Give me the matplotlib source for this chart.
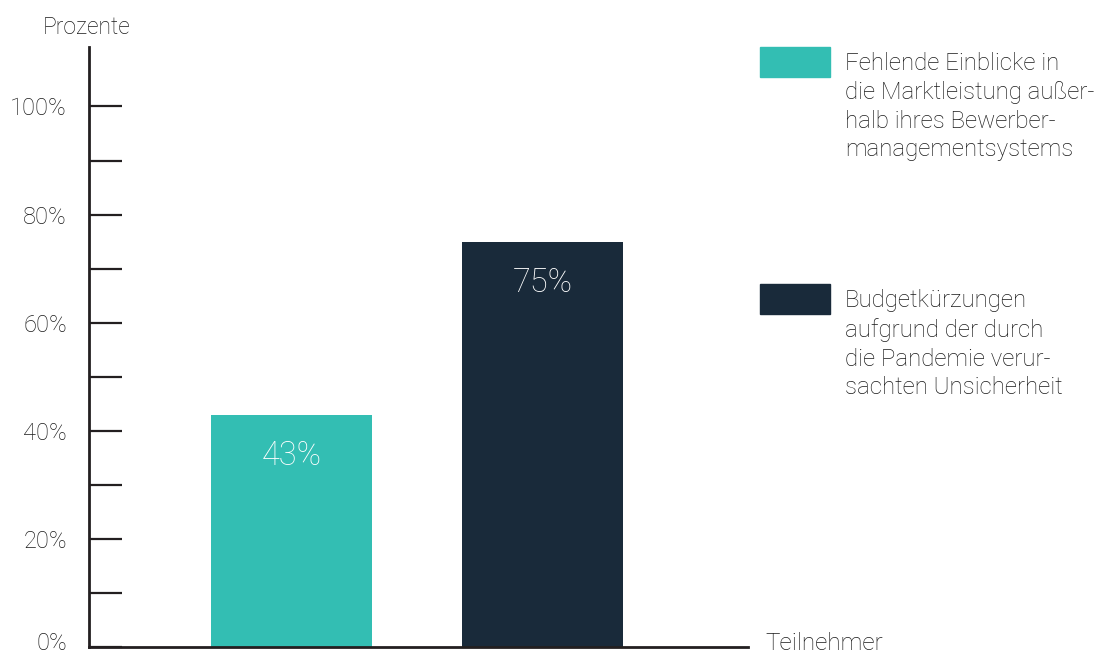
import matplotlib.pyplot as plt
from matplotlib.transforms import ScaledTranslation

plt.rcParams['font.family'] = ['Roboto', 'DejaVu Sans']

categories = ["Fehlende Einblicke in\ndie Marktleistung außer-\nhalb ihres Bewerber-\nmanagementsystems",
              "Budgetkürzungen\naufgrund der durch\ndie Pandemie verur-\nsachten Unsicherheit"]
values = [43, 75]
colors = ["#33BEB3", "#192A3A"]
yticks = [0, 20, 40, 60, 80, 100]
yticks_minor = [10, 30, 50, 70, 90]

W, H = 1103, 654
fig = plt.figure(figsize=(W / 100, H / 100), dpi=100)
ax = fig.add_axes([89 / W, (H - 647) / H, (748 - 89) / W, 600 / H])

txt = "#1A1A1A"
ax.bar(range(len(values)), values, width=0.64, color=colors)
for i, v in enumerate(values):
    ax.text(i, v - 7.6, f"{v}%", ha="center", va="center", color="white",
            fontsize=23.5, fontweight="light")

ax.set_xlim(-0.807, 1.819)
ax.set_ylim(0, 111)
for s in ["top", "right"]:
    ax.spines[s].set_visible(False)
for s in ["left", "bottom"]:
    ax.spines[s].set_linewidth(2)
    ax.spines[s].set_color("#231F20")
ax.set_xticks([])
ax.set_yticks(yticks)
ax.set_yticklabels([f"{t}%" for t in yticks])
ax.set_yticks(yticks_minor, minor=True)
ax.tick_params(axis="y", which="both", direction="in", length=24, width=1.6,
               color="#231F20", pad=16, labelsize=17, labelcolor=txt)
labels = ax.get_yticklabels()
for lab in labels:
    lab.set_fontweight("light")
# the 0% label sits a little above the axis line
labels[0].set_transform(labels[0].get_transform() + ScaledTranslation(0, 0.06, fig.dpi_scale_trans))

fig.text(43 / W, 1 - 27 / H, "Prozente", ha="left", va="center",
         fontsize=16.5, color=txt, fontweight="light")
fig.text(765 / W, 1 - 643 / H, "Teilnehmer", ha="left", va="center",
         fontsize=17.5, color=txt, fontweight="light")

# legend
legend_tops = [47, 284]
for lab, c, top in zip(categories, colors, legend_tops):
    fig.patches.append(plt.Rectangle((760 / W, 1 - (top + 30) / H), 70 / W, 30 / H,
                                     transform=fig.transFigure, color=c))
    fig.text(845 / W, 1 - (top + 5) / H, lab, ha="left", va="top", fontsize=17.3,
             color=txt, fontweight="light", linespacing=1.32)

fig.savefig("out.png", dpi=100)
